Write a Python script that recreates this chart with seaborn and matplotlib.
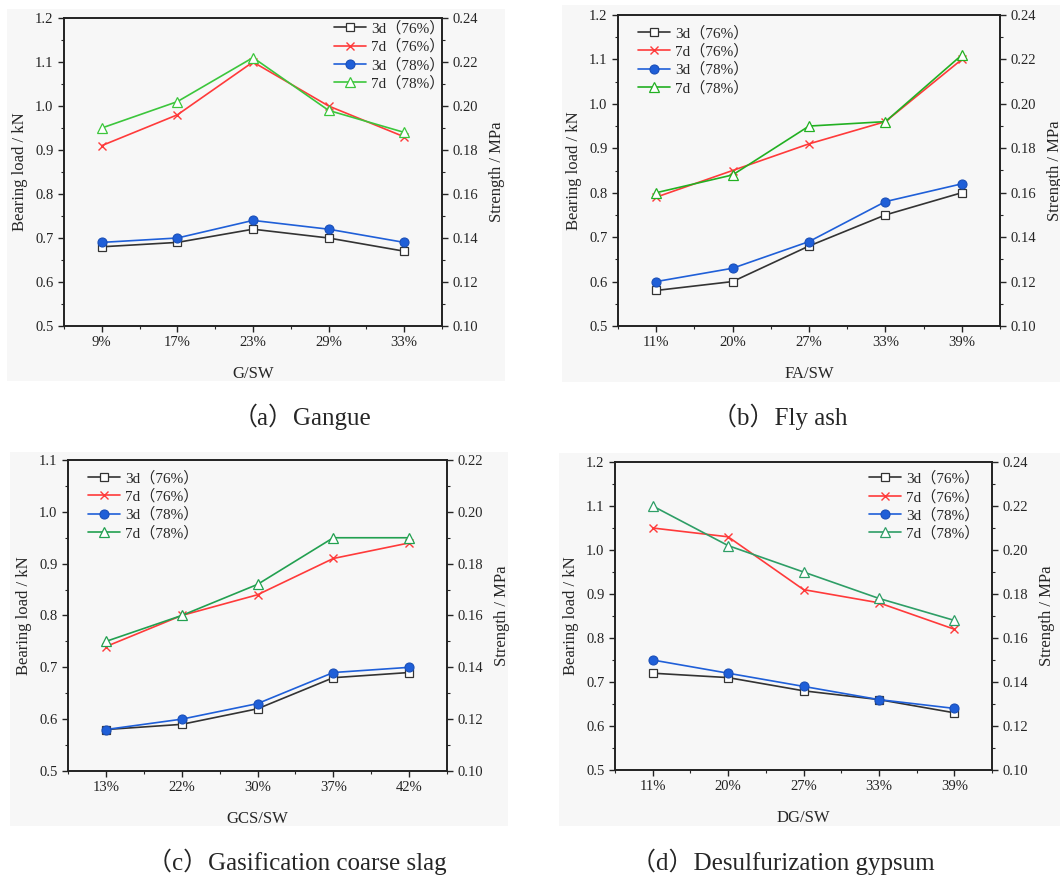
import matplotlib
matplotlib.use("Agg")
import matplotlib.pyplot as plt
from matplotlib.ticker import AutoMinorLocator, FormatStrFormatter, MultipleLocator, FixedLocator
from matplotlib.patches import Rectangle
import seaborn as sns
import numpy as np

sns.set_style("ticks")
plt.rcParams['font.family'] = ['Liberation Serif', 'Noto Sans CJK SC']

series_names = ["3d（76%）", "7d（76%）", "3d（78%）", "7d（78%）"]

# (a) Gangue
a_cats = ["9%", "17%", "23%", "29%", "33%"]
a_3d76 = [0.68, 0.69, 0.72, 0.70, 0.67]
a_7d76 = [0.91, 0.98, 1.10, 1.00, 0.93]
a_3d78 = [0.69, 0.70, 0.74, 0.72, 0.69]
a_7d78 = [0.95, 1.01, 1.11, 0.99, 0.94]

# (b) Fly ash
b_cats = ["11%", "20%", "27%", "33%", "39%"]
b_3d76 = [0.58, 0.60, 0.68, 0.75, 0.80]
b_7d76 = [0.79, 0.85, 0.91, 0.96, 1.10]
b_3d78 = [0.60, 0.63, 0.69, 0.78, 0.82]
b_7d78 = [0.80, 0.84, 0.95, 0.96, 1.11]

# (c) Gasification coarse slag
c_cats = ["13%", "22%", "30%", "37%", "42%"]
c_3d76 = [0.58, 0.59, 0.62, 0.68, 0.69]
c_7d76 = [0.74, 0.80, 0.84, 0.91, 0.94]
c_3d78 = [0.58, 0.60, 0.63, 0.69, 0.70]
c_7d78 = [0.75, 0.80, 0.86, 0.95, 0.95]

# (d) Desulfurization gypsum
d_cats = ["11%", "20%", "27%", "33%", "39%"]
d_3d76 = [0.72, 0.71, 0.68, 0.66, 0.63]
d_7d76 = [1.05, 1.03, 0.91, 0.88, 0.82]
d_3d78 = [0.75, 0.72, 0.69, 0.66, 0.64]
d_7d78 = [1.10, 1.01, 0.95, 0.89, 0.84]

W, H = 1060, 875
fig = plt.figure(figsize=(W / 100, H / 100), dpi=100)

def px_rect(x0, y0, x1, y1):
    return [x0 / W, 1 - y1 / H, (x1 - x0) / W, (y1 - y0) / H]

panels = [
    dict(cats=a_cats, data=[a_3d76, a_7d76, a_3d78, a_7d78], xlabel="G/SW",
         ylim=(0.5, 1.2), ax=(64, 18, 442, 326), bg=(7, 9, 505, 381),
         cap="（a）Gangue", capxy=(302, 417), loc="upper right",
         green="#3cc63c", anchor=(1.035, 1.025)),
    dict(cats=b_cats, data=[b_3d76, b_7d76, b_3d78, b_7d78], xlabel="FA/SW",
         ylim=(0.5, 1.2), ax=(618, 15, 1000, 326), bg=(562, 5, 1060, 382),
         cap="（b）Fly ash", capxy=(780, 417), loc="upper left",
         green="#22b022", anchor=(0.025, 1.0)),
    dict(cats=c_cats, data=[c_3d76, c_7d76, c_3d78, c_7d78], xlabel="GCS/SW",
         ylim=(0.5, 1.1), ax=(68, 460, 447, 771), bg=(10, 452, 508, 826),
         cap="（c）Gasification coarse slag", capxy=(297, 862), loc="upper left",
         green="#22a050", anchor=(0.025, 1.0)),
    dict(cats=d_cats, data=[d_3d76, d_7d76, d_3d78, d_7d78], xlabel="DG/SW",
         ylim=(0.5, 1.2), ax=(615, 462, 992, 770), bg=(559, 453, 1060, 826),
         cap="（d）Desulfurization gypsum", capxy=(783, 862), loc="upper right",
         green="#2e9e66", anchor=(0.995, 1.005)),
]

for p in panels:
    x0, y0, x1, y1 = p["bg"]
    fig.patches.append(Rectangle((x0 / W, 1 - y1 / H), (x1 - x0) / W, (y1 - y0) / H,
                                 transform=fig.transFigure, facecolor="#f7f7f7",
                                 edgecolor="none", zorder=-10))
    ax = fig.add_axes(px_rect(*p["ax"]))
    ax.set_facecolor("#f7f7f7")
    pos = np.arange(len(p["cats"]))
    styles = [
        dict(color="#333333", marker="s", markersize=5.5, markerfacecolor="white",
             markeredgecolor="#333333", markeredgewidth=0.9),
        dict(color="#ff3a3a", marker="x", markersize=6, markeredgewidth=1.0,
             markeredgecolor="#ff3a3a", markerfacecolor="#ff3a3a"),
        dict(color="#1f5fd8", marker="o", markersize=6.5, markerfacecolor="#1f5fd8",
             markeredgecolor="#1a4fb8", markeredgewidth=0.8),
        dict(color=p["green"], marker="^", markersize=7, markerfacecolor="white",
             markeredgecolor=p["green"], markeredgewidth=0.9),
    ]
    for name, vals, st in zip(series_names, p["data"], styles):
        sns.lineplot(x=pos, y=vals, ax=ax, label=name, linewidth=1.2, **st)
    ax.set_xlim(-0.5, len(pos) - 0.5)
    ax.set_ylim(*p["ylim"])
    ax.set_xticks(pos)
    ax.set_xticklabels(p["cats"], fontsize=10.5)
    ax.xaxis.set_minor_locator(FixedLocator(np.arange(-0.5, len(pos), 1.0)))
    ax.yaxis.set_major_locator(MultipleLocator(0.1))
    ax.yaxis.set_minor_locator(AutoMinorLocator(2))
    ax.yaxis.set_major_formatter(FormatStrFormatter("%.1f"))
    ax.tick_params(axis="both", which="major", direction="out", length=4, width=1.0,
                   labelsize=10.5, colors="#222222")
    ax.tick_params(axis="both", which="minor", direction="out", length=2.5, width=0.8)
    for s in ax.spines.values():
        s.set_visible(True)
        s.set_linewidth(1.2)
        s.set_color("#222222")
    ax.set_xlabel(p["xlabel"], fontsize=12, labelpad=12)
    ax.set_ylabel("Bearing load / kN", fontsize=12, labelpad=5)

    ax2 = ax.twinx()
    ax2.set_ylim(p["ylim"][0] * 0.2, p["ylim"][1] * 0.2)
    ax2.yaxis.set_major_locator(MultipleLocator(0.02))
    ax2.yaxis.set_minor_locator(AutoMinorLocator(2))
    ax2.yaxis.set_major_formatter(FormatStrFormatter("%.2f"))
    ax2.tick_params(axis="y", which="major", direction="out", length=4, width=1.0, labelsize=10.5)
    ax2.tick_params(axis="y", which="minor", direction="out", length=2.5, width=0.8)
    ax2.set_ylabel("Strength / MPa", fontsize=12, labelpad=8)
    for s in ax2.spines.values():
        s.set_linewidth(1.2)
        s.set_color("#222222")

    ax.legend(loc=p["loc"], frameon=False, fontsize=11, handlelength=2.1,
              labelspacing=0.25, borderaxespad=0.3, handletextpad=0.3,
              bbox_to_anchor=p["anchor"])

    cx, cy = p["capxy"]
    fig.text(cx / W, 1 - cy / H, p["cap"], ha="center", va="center", fontsize=18)

fig.savefig("out.png", dpi=100)
